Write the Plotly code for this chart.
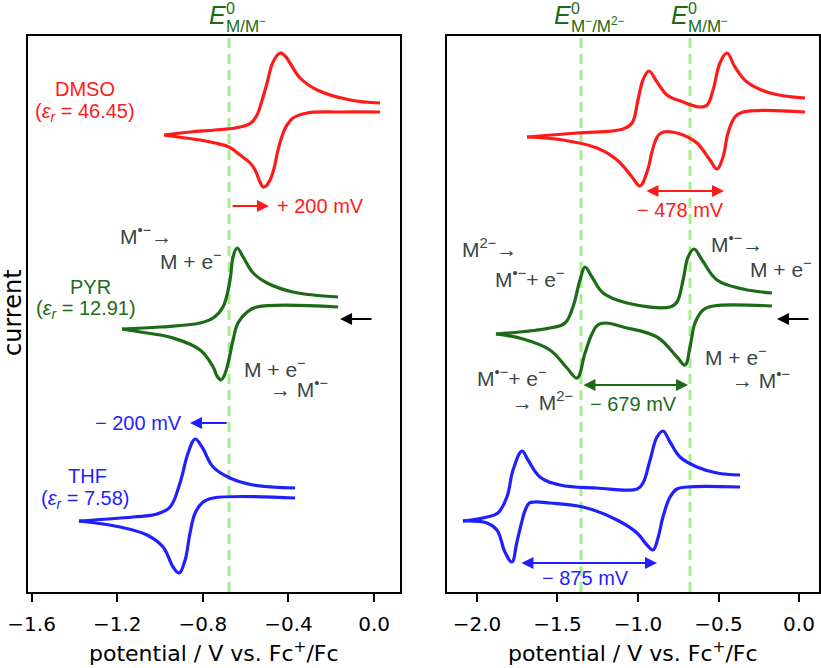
import plotly.graph_objects as go

# ---------------- DATA (potential in V vs Fc+/Fc, current in arbitrary units, stacked) ----------------
# Left panel: one-electron reduction in three solvents
dmso1_up_v = [-0.981, -0.860, -0.743, -0.650, -0.593, -0.570, -0.547, -0.523, -0.500, -0.472, -0.439, -0.416, -0.393, -0.346, -0.266, -0.112, 0.028]
dmso1_up_i = [4.57, 4.60, 4.62, 4.64, 4.67, 4.70, 4.77, 4.92, 5.09, 5.30, 5.39, 5.36, 5.29, 5.14, 5.02, 4.92, 4.89]
dmso1_lo_v = [0.028, -0.159, -0.313, -0.379, -0.407, -0.425, -0.449, -0.467, -0.486, -0.505, -0.519, -0.533, -0.556, -0.579, -0.626, -0.678, -0.743, -0.813, -0.883, -0.981]
dmso1_lo_i = [4.80, 4.80, 4.79, 4.74, 4.67, 4.59, 4.42, 4.24, 4.12, 4.06, 4.05, 4.10, 4.22, 4.29, 4.37, 4.45, 4.49, 4.52, 4.54, 4.57]

pyr1_up_v = [-1.178, -1.000, -0.813, -0.752, -0.706, -0.673, -0.659, -0.640, -0.612, -0.565, -0.500, -0.379, -0.168]
pyr1_up_i = [2.63, 2.65, 2.69, 2.74, 2.85, 3.12, 3.35, 3.44, 3.35, 3.19, 3.09, 3.00, 2.95]
pyr1_lo_v = [-0.168, -0.547, -0.593, -0.636, -0.659, -0.682, -0.701, -0.715, -0.734, -0.752, -0.813, -0.939, -1.061, -1.178]
pyr1_lo_i = [2.85, 2.85, 2.80, 2.69, 2.52, 2.29, 2.16, 2.12, 2.16, 2.25, 2.42, 2.54, 2.59, 2.63]

thf1_up_v = [-1.379, -1.126, -1.014, -0.953, -0.907, -0.869, -0.836, -0.804, -0.752, -0.673, -0.565, -0.369]
thf1_up_i = [0.71, 0.75, 0.78, 0.85, 1.09, 1.39, 1.53, 1.45, 1.25, 1.14, 1.07, 1.04]
thf1_lo_v = [-0.369, -0.752, -0.799, -0.836, -0.860, -0.883, -0.911, -0.939, -0.986, -1.061, -1.187, -1.379]
thf1_lo_i = [0.94, 0.94, 0.90, 0.79, 0.59, 0.32, 0.19, 0.25, 0.45, 0.57, 0.65, 0.71]

# Right panel: two-electron reduction in three solvents
dmso2_up_v = [-1.689, -1.379, -1.093, -1.037, -1.000, -0.969, -0.932, -0.882, -0.820, -0.720, -0.615, -0.571, -0.534, -0.491, -0.447, -0.398, -0.323, -0.180, 0.037]
dmso2_up_i = [4.55, 4.59, 4.63, 4.69, 4.92, 5.12, 5.21, 5.10, 4.97, 4.90, 4.85, 4.87, 5.02, 5.29, 5.39, 5.25, 5.10, 4.99, 4.94]
dmso2_lo_v = [0.037, -0.348, -0.398, -0.441, -0.472, -0.509, -0.553, -0.634, -0.720, -0.790, -0.840, -0.872, -0.895, -0.915, -0.940, -0.988, -1.037, -1.130, -1.255, -1.466, -1.689]
dmso2_lo_i = [4.80, 4.80, 4.75, 4.59, 4.35, 4.23, 4.32, 4.49, 4.57, 4.60, 4.60, 4.57, 4.50, 4.39, 4.22, 4.06, 4.15, 4.32, 4.44, 4.52, 4.55]

pyr2_up_v = [-1.882, -1.547, -1.453, -1.404, -1.360, -1.329, -1.286, -1.217, -1.068, -0.801, -0.758, -0.720, -0.689, -0.652, -0.602, -0.509, -0.348, -0.168]
pyr2_up_i = [2.58, 2.64, 2.69, 2.85, 3.12, 3.25, 3.15, 2.99, 2.89, 2.85, 2.90, 3.12, 3.35, 3.43, 3.32, 3.12, 3.03, 2.99]
pyr2_lo_v = [-0.168, -0.534, -0.596, -0.646, -0.677, -0.708, -0.758, -0.882, -1.093, -1.200, -1.250, -1.286, -1.329, -1.379, -1.441, -1.547, -1.714, -1.882]
pyr2_lo_i = [2.86, 2.86, 2.82, 2.69, 2.45, 2.27, 2.35, 2.55, 2.65, 2.69, 2.67, 2.58, 2.39, 2.14, 2.24, 2.42, 2.53, 2.58]

thf2_up_v = [-2.087, -1.938, -1.870, -1.814, -1.776, -1.720, -1.683, -1.609, -1.484, -1.255, -1.006, -0.969, -0.925, -0.882, -0.845, -0.801, -0.739, -0.634, -0.509, -0.366]
thf2_up_i = [0.71, 0.75, 0.79, 0.95, 1.22, 1.41, 1.32, 1.15, 1.07, 1.04, 1.03, 1.09, 1.32, 1.55, 1.61, 1.50, 1.35, 1.25, 1.19, 1.17]
thf2_lo_v = [-0.366, -0.696, -0.758, -0.801, -0.845, -0.876, -0.907, -0.944, -1.006, -1.130, -1.342, -1.547, -1.640, -1.675, -1.700, -1.725, -1.752, -1.783, -1.826, -1.876, -1.938, -2.087]
thf2_lo_i = [1.05, 1.05, 1.03, 0.95, 0.75, 0.54, 0.42, 0.47, 0.59, 0.72, 0.85, 0.89, 0.90, 0.89, 0.82, 0.68, 0.50, 0.30, 0.40, 0.62, 0.69, 0.71]

# formal potentials (V vs Fc+/Fc)
E0_left = [-0.678]
E0_right = [-1.354, -0.677]

# tick labels
left_ticks = [-1.6, -1.2, -0.8, -0.4, 0.0]
left_ticktext = ["\u22121.6", "\u22121.2", "\u22120.8", "\u22120.4", "0.0"]
right_ticks = [-2.0, -1.5, -1.0, -0.5, 0.0]
right_ticktext = ["\u22122.0", "\u22121.5", "\u22121.0", "\u22120.5", "0.0"]

# shift / separation annotations: (start V, end V, current)
shift_dmso = (-0.668, -0.491, 3.86)
shift_thf = (-0.682, -0.860, 1.69)
sep_dmso = (-0.957, -0.466, 4.01)
sep_pyr = (-1.348, -0.689, 2.07)
sep_thf = (-1.733, -0.882, 0.29)

# ---------------- STYLE ----------------
W, H = 821, 668
RED = "#ff1a1a"
GREEN = "#1d6b16"
BLUE = "#1f1fff"
GRAY = "#3a4744"
DASH = "#a8ee90"
FONT = "Liberation Sans, Arial, Helvetica, sans-serif"
AXFONT = "DejaVu Sans, Verdana, sans-serif"

fig = go.Figure()


def add_cv(v, i, color, xa, ya):
    fig.add_trace(go.Scatter(x=v, y=i, mode="lines", xaxis=xa, yaxis=ya,
                             line=dict(color=color, width=3.2, shape="spline", smoothing=1.1),
                             showlegend=False, hoverinfo="skip"))


# dashed E0 lines (under curves)
for e in E0_left:
    fig.add_shape(type="line", x0=e, x1=e, xref="x", y0=0, y1=1, yref="y domain",
                  line=dict(color=DASH, width=3, dash="10px,6px"), layer="below")
for e in E0_right:
    fig.add_shape(type="line", x0=e, x1=e, xref="x2", y0=0, y1=1, yref="y2 domain",
                  line=dict(color=DASH, width=3, dash="10px,6px"), layer="below")

for (v, i, c) in [(dmso1_up_v, dmso1_up_i, RED), (dmso1_lo_v, dmso1_lo_i, RED),
                  (pyr1_up_v, pyr1_up_i, GREEN), (pyr1_lo_v, pyr1_lo_i, GREEN),
                  (thf1_up_v, thf1_up_i, BLUE), (thf1_lo_v, thf1_lo_i, BLUE)]:
    add_cv(v, i, c, "x", "y")
for (v, i, c) in [(dmso2_up_v, dmso2_up_i, RED), (dmso2_lo_v, dmso2_lo_i, RED),
                  (pyr2_up_v, pyr2_up_i, GREEN), (pyr2_lo_v, pyr2_lo_i, GREEN),
                  (thf2_up_v, thf2_up_i, BLUE), (thf2_lo_v, thf2_lo_i, BLUE)]:
    add_cv(v, i, c, "x2", "y2")

ann = []


def txt(s, px, py, size=20, color=GRAY, xanchor="center", family=FONT, **kw):
    ann.append(dict(text=s, x=px / W, y=1 - py / H, xref="paper", yref="paper",
                    showarrow=False, xanchor=xanchor, yanchor="middle",
                    font=dict(family=family, size=size, color=color), **kw))


def arrow(x0, x1, yv, color, xr, yr, double=False, width=2):
    d = dict(text="", x=x1, y=yv, ax=x0, ay=yv, xref=xr, yref=yr, axref=xr, ayref=yr,
             showarrow=True, arrowhead=2, arrowsize=1.2, arrowwidth=width, arrowcolor=color,
             standoff=0, startstandoff=0)
    if double:
        d["arrowside"] = "end+start"
        d["startarrowhead"] = 2
        d["startarrowsize"] = 1.2
    ann.append(d)


# E0 labels (top)
def e0(px_e, sub, color=GREEN):
    txt("<i>E</i>", px_e - 1, 15, size=25, color=color, xanchor="left")
    txt("0", px_e + 16, 9, size=16, color=color, xanchor="left")
    txt(sub, px_e + 16, 25, size=17, color=color, xanchor="left")


e0(208, "M/M<sup>\u2212</sup>")
e0(553, "M<sup>\u2212</sup>/M<sup>2\u2212</sup>")
e0(670, "M/M<sup>\u2212</sup>")

# left panel solvent labels
txt("DMSO", 85, 89, color=RED)
txt("(<i>\u03b5<sub>r</sub></i> = 46.45)", 85, 112, color=RED)
txt("PYR", 90, 287, color=GREEN)
txt("(<i>\u03b5<sub>r</sub></i> = 12.91)", 86, 310, color=GREEN)
txt("THF", 87, 476, color=BLUE)
txt("(<i>\u03b5<sub>r</sub></i> = 7.58)", 85, 499, color=BLUE)

# shifts, left panel
arrow(shift_dmso[0], shift_dmso[1], shift_dmso[2], RED, "x", "y")
txt("+ 200 mV", 275, 206, color=RED, xanchor="left")
arrow(shift_thf[0], shift_thf[1], shift_thf[2], BLUE, "x", "y")
txt("\u2212 200 mV", 184, 423, color=BLUE, xanchor="right")

# reaction labels left
txt("M<sup>\u2022\u2212</sup>\u2192", 118, 235, size=21, xanchor="left")
txt("M + e<sup>\u2212</sup>", 158, 260, size=21, xanchor="left")
txt("M + e<sup>\u2212</sup>", 242, 368, size=21, xanchor="left")
txt("\u2192 M<sup>\u2022\u2212</sup>", 268, 388, size=21, xanchor="left")

# scan direction arrows
arrow(-0.005, -0.159, 2.73, "black", "x", "y")
arrow(0.068, -0.137, 2.73, "black", "x2", "y2")

# right panel
arrow(sep_dmso[0], sep_dmso[1], sep_dmso[2], RED, "x2", "y2", double=True)
txt("\u2212 478 mV", 680, 210, color=RED)
arrow(sep_pyr[0], sep_pyr[1], sep_pyr[2], GREEN, "x2", "y2", double=True)
txt("\u2212 679 mV", 633, 404, color=GREEN)
arrow(sep_thf[0], sep_thf[1], sep_thf[2], BLUE, "x2", "y2", double=True)
txt("\u2212 875 mV", 585, 578, color=BLUE)

txt("M<sup>2\u2212</sup>\u2192", 460, 248, size=21, xanchor="left")
txt("M<sup>\u2022\u2212</sup>+ e<sup>\u2212</sup>", 493, 278, size=21, xanchor="left")
txt("M<sup>\u2022\u2212</sup>\u2192", 709, 243, size=21, xanchor="left")
txt("M + e<sup>\u2212</sup>", 748, 268, size=21, xanchor="left")
txt("M + e<sup>\u2212</sup>", 703, 356, size=21, xanchor="left")
txt("\u2192 M<sup>\u2022\u2212</sup>", 730, 379, size=21, xanchor="left")
txt("M<sup>\u2022\u2212</sup>+ e<sup>\u2212</sup>", 475, 377, size=21, xanchor="left")
txt("\u2192 M<sup>2\u2212</sup>", 510, 401, size=21, xanchor="left")

# axis titles
txt("current", 13, 313, size=24, color="black", family=AXFONT, textangle=-90)
txt("potential / V vs. Fc<sup>+</sup>/Fc", 214, 652, size=22, color="black", family=AXFONT)
txt("potential / V vs. Fc<sup>+</sup>/Fc", 633, 652, size=22, color="black", family=AXFONT)

axis_common = dict(showline=True, linecolor="black", linewidth=2, mirror=True,
                   showgrid=False, zeroline=False)
xt = dict(ticks="outside", ticklen=8, tickwidth=2, tickcolor="black",
          tickfont=dict(family=AXFONT, size=20, color="black"), ticklabelstandoff=5)

fig.update_layout(
    width=W, height=H, margin=dict(l=0, r=0, t=0, b=0),
    paper_bgcolor="white", plot_bgcolor="white", showlegend=False,
    xaxis=dict(domain=[28 / W, 400 / W], range=[-1.617, 0.121], anchor="y",
               tickvals=left_ticks, ticktext=left_ticktext, automargin=False, **axis_common, **xt),
    yaxis=dict(domain=[1 - 592 / H, 1 - 36 / H], range=[0, 5.56], anchor="x",
               showticklabels=False, ticks="", automargin=False, **axis_common),
    xaxis2=dict(domain=[447 / W, 819 / W], range=[-2.186, 0.124], anchor="y2",
                tickvals=right_ticks, ticktext=right_ticktext, automargin=False, **axis_common, **xt),
    yaxis2=dict(domain=[1 - 592 / H, 1 - 36 / H], range=[0, 5.56], anchor="x2",
                showticklabels=False, ticks="", automargin=False, **axis_common),
    annotations=ann,
)

fig.write_html("out.html")
